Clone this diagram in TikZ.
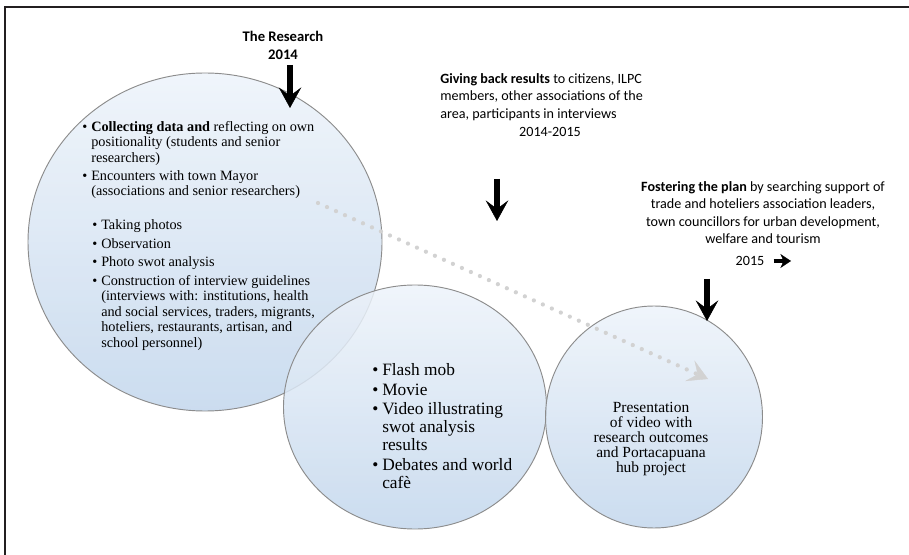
\documentclass[tikz,border=0pt]{standalone}
\usepackage{fontspec}
\setmainfont{Liberation Serif}
\newfontfamily\headfont{Carlito}
\usetikzlibrary{arrows.meta,shapes.geometric}
\definecolor{bubbletop}{HTML}{EDF3FA}
\definecolor{bubblebot}{HTML}{C2D6EC}
\definecolor{bubbleedge}{HTML}{8C8C8C}
\definecolor{dotgray}{HTML}{D2D2D2}
\definecolor{framegray}{HTML}{231F20}
\tikzset{
  bubble/.style={ellipse, draw=bubbleedge, line width=0.7pt, top color=bubbletop,
    bottom color=bubblebot, fill opacity=0.85, inner sep=0pt},
  heading/.style={font=\headfont\fontsize{10.6}{13.1}\selectfont, inner sep=0pt},
  listtext/.style={font=\fontsize{10.7}{11.6}\selectfont, align=left, inner sep=0pt},
  timeline/.style={-{Stealth[length=15.5pt,width=17pt,inset=6.4pt,line width=0.4pt]}, line width=4.4pt},
  dotflow/.style={draw=dotgray, line width=3.2pt, line cap=round, dash pattern=on 0pt off 7.4pt}
}
\newcommand{\bul}{\makebox[6.75pt][l]{\textbullet}}
\newcommand{\ind}{\hspace*{6.75pt}}
\newcommand{\subind}{\hspace*{7.5pt}}

\begin{document}
\begin{tikzpicture}[x=0.75pt, y=-0.75pt]
  \useasboundingbox (0,0) rectangle (909,555);
  \draw[framegray, line width=2pt] (5,555) -- (5,7) -- (909,7);

  % the three stages
  \node[bubble, minimum width=354*0.75pt, minimum height=338*0.75pt] (research) at (205,242) {};
  \node[bubble, minimum width=263*0.75pt, minimum height=244*0.75pt] (events) at (415,407) {};
  \node[bubble, minimum width=217*0.75pt, minimum height=222*0.75pt] (presentation) at (654,417) {};

  \node[listtext, anchor=north west] (collect) at (82,121)
    {\bul\textbf{Collecting data and} reflecting on own\\
     \ind positionality (students and senior\\
     \ind researchers)\\[2pt]
     \bul Encounters with town Mayor\\
     \ind (associations and senior researchers)\\[14pt]
     \subind\bul Taking photos\\[2.2pt]
     \subind\bul Observation\\[2.2pt]
     \subind\bul Photo swot analysis\\[2.2pt]
     \subind\bul Construction of interview guidelines\\
     \subind\ind (interviews with: institutions, health\\
     \subind\ind and social services, traders, migrants,\\
     \subind\ind hoteliers, restaurants, artisan, and\\
     \subind\ind school personnel)};

  \node[listtext, font=\fontsize{13}{13.5}\selectfont, anchor=north west] (eventlist) at (372,363)
    {\makebox[7.5pt][l]{\textbullet}Flash mob\\[1.5pt]
     \makebox[7.5pt][l]{\textbullet}Movie\\[1.2pt]
     \makebox[7.5pt][l]{\textbullet}Video illustrating\\
     \hspace*{7.5pt}swot analysis\\
     \hspace*{7.5pt}results\\[1.2pt]
     \makebox[7.5pt][l]{\textbullet}Debates and world\\
     \hspace*{7.5pt}caf\`e};

  \node[listtext, font=\fontsize{11.6}{11.3}\selectfont, align=center, anchor=north] (presentlist) at (651,402)
    {Presentation\\of video with\\research outcomes\\and Portacapuana\\hub project};

  % headings
  \node[heading, font=\headfont\fontsize{11}{13.1}\selectfont, align=center, anchor=north] (researchhead) at (283,31)
    {\textbf{The Research}\\\textbf{2014}};
  \node[heading, align=left, anchor=north west] (giving) at (440,73)
    {\textbf{Giving back results} to citizens, ILPC\\
     members, other associations of the\\
     area, participants in interviews};
  \node[heading] (givingyear) at (550,132) {2014-2015};
  \node[heading, align=center, anchor=north] (fostering) at (763,181)
    {\textbf{Fostering the plan} by searching support of\\
     trade and hoteliers association leaders,\\
     town councillors for urban development,\\
     welfare and tourism};
  \node[heading] (fosteringyear) at (750,261) {2015};

  % arrows
  \coordinate (researchtail) at (290,65);
  \coordinate (researchtip) at (290,108);
  \coordinate (givingtail) at (497,179);
  \coordinate (givingtip) at (497,221);
  \coordinate (fosteringtail) at (707,279);
  \coordinate (fosteringtip) at (707,321);
  \coordinate (yeartip) at (791,261);
  \coordinate (dotstart) at (318,203);
  \coordinate (dotend) at (708,379);

  \draw[timeline] (researchtail) -- (researchtip);
  \draw[timeline] (givingtail) -- (givingtip);
  \draw[timeline] (fosteringtail) -- (fosteringtip);
  \draw[-{Stealth[length=8pt,width=10.5pt,inset=2.5pt,line width=0.3pt]}, line width=2.6pt]
    (fosteringyear.east) ++(9,0) -- (yeartip);
  \draw[dotflow, -{Stealth[length=15pt,width=17pt,inset=6.5pt,line width=0.3pt]}] (dotstart) -- (dotend);
\end{tikzpicture}
\end{document}
